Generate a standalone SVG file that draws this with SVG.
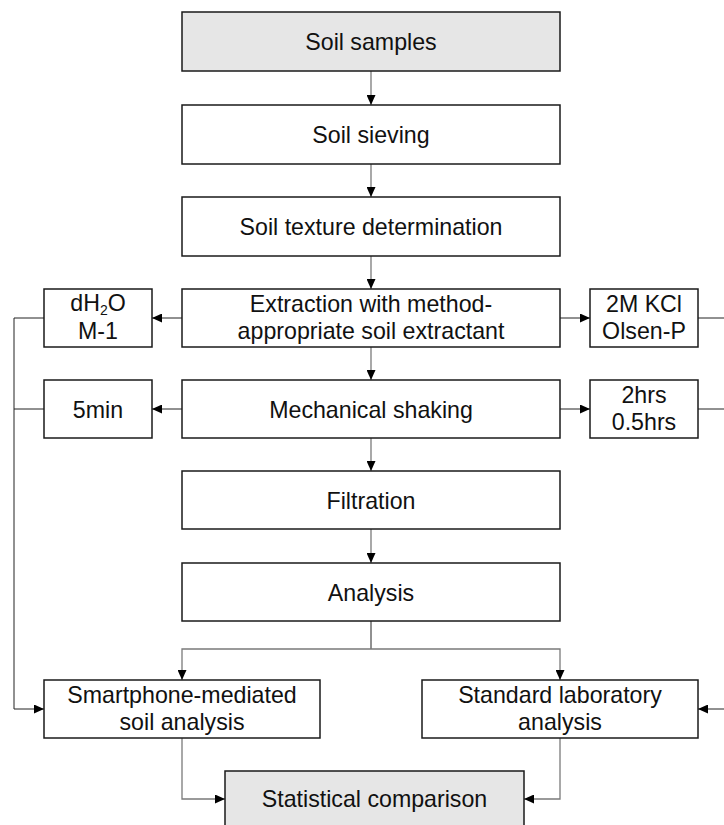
<svg xmlns="http://www.w3.org/2000/svg" width="724" height="825" viewBox="0 0 724 825">
<style>
.box{fill:#ffffff;stroke:#1a1a1a;stroke-width:1.5}
.grey{fill:#e6e6e6}
.t{font-family:"Liberation Sans",Arial,Helvetica,sans-serif;font-size:23.2px;fill:#111;text-anchor:middle}
.c{fill:none;stroke:#7a7a7a;stroke-width:1.3}
.s{fill:none;stroke:#222;stroke-width:1}
</style>
<defs>
<marker id="ah" viewBox="0 0 10 9" refX="10" refY="4.5" markerWidth="10" markerHeight="9" markerUnits="userSpaceOnUse" orient="auto">
<path d="M0,0 L10,4.5 L0,9 Z" fill="#000"/>
</marker>
</defs>
<rect width="724" height="825" fill="#ffffff"/>
<g id="connectors">
<path class="c" d="M371,71 V105" marker-end="url(#ah)"/>
<path class="c" d="M371,164 V197" marker-end="url(#ah)"/>
<path class="c" d="M371,256 V289" marker-end="url(#ah)"/>
<path class="c" d="M371,347 V380" marker-end="url(#ah)"/>
<path class="c" d="M371,438 V471" marker-end="url(#ah)"/>
<path class="c" d="M371,529 V563" marker-end="url(#ah)"/>
<path class="s" d="M182,318 H152" marker-end="url(#ah)"/>
<path class="s" d="M560,318 H590" marker-end="url(#ah)"/>
<path class="s" d="M182,409 H152" marker-end="url(#ah)"/>
<path class="s" d="M560,409 H590" marker-end="url(#ah)"/>
<path class="s" d="M44,318 H14 V709 H44" marker-end="url(#ah)"/>
<path class="s" d="M44,409 H14"/>
<path class="s" d="M698,318 H740 V709 H698" marker-end="url(#ah)"/>
<path class="s" d="M698,409 H740"/>
<path class="s" d="M371,621 V649"/>
<path class="c" d="M371,649 H182 V680" marker-end="url(#ah)"/>
<path class="c" d="M371,649 H560 V680" marker-end="url(#ah)"/>
<path class="c" d="M182,738 V799 H225" marker-end="url(#ah)"/>
<path class="c" d="M560,738 V799 H524" marker-end="url(#ah)"/>
</g>
<g id="soil-samples">
<rect class="box grey" x="182" y="12" width="378" height="59"/>
<text class="t" x="371" y="50">Soil samples</text>
</g>
<g id="soil-sieving">
<rect class="box" x="182" y="105" width="378" height="59"/>
<text class="t" x="371" y="143">Soil sieving</text>
</g>
<g id="soil-texture">
<rect class="box" x="182" y="197" width="378" height="59"/>
<text class="t" x="371" y="235">Soil texture determination</text>
</g>
<g id="extraction">
<rect class="box" x="182" y="289" width="378" height="58"/>
<text class="t" x="371" y="311.5">Extraction with method-</text>
<text class="t" x="371" y="338.5">appropriate soil extractant</text>
</g>
<g id="dh2o">
<rect class="box" x="44" y="289" width="108" height="58"/>
<text class="t" x="98" y="310.5">dH<tspan font-size="14" dy="4">2</tspan><tspan dy="-4">O</tspan></text>
<text class="t" x="98" y="339">M-1</text>
</g>
<g id="kcl">
<rect class="box" x="590" y="289" width="108" height="58"/>
<text class="t" x="644" y="311.5">2M KCl</text>
<text class="t" x="644" y="338.5">Olsen-P</text>
</g>
<g id="mechanical-shaking">
<rect class="box" x="182" y="380" width="378" height="58"/>
<text class="t" x="371" y="417.5">Mechanical shaking</text>
</g>
<g id="five-min">
<rect class="box" x="44" y="380" width="108" height="58"/>
<text class="t" x="98" y="417.5">5min</text>
</g>
<g id="hrs">
<rect class="box" x="590" y="380" width="108" height="58"/>
<text class="t" x="644" y="402.5">2hrs</text>
<text class="t" x="644" y="429.5">0.5hrs</text>
</g>
<g id="filtration">
<rect class="box" x="182" y="471" width="378" height="58"/>
<text class="t" x="371" y="508.5">Filtration</text>
</g>
<g id="analysis">
<rect class="box" x="182" y="563" width="378" height="58"/>
<text class="t" x="371" y="600.5">Analysis</text>
</g>
<g id="smartphone">
<rect class="box" x="44" y="680" width="276" height="58"/>
<text class="t" x="182" y="702.5">Smartphone-mediated</text>
<text class="t" x="182" y="730">soil analysis</text>
</g>
<g id="standard">
<rect class="box" x="422" y="680" width="276" height="58"/>
<text class="t" x="560" y="702.5">Standard laboratory</text>
<text class="t" x="560" y="730">analysis</text>
</g>
<g id="statistical">
<rect class="box grey" x="225" y="771" width="299" height="60"/>
<text class="t" x="374.5" y="807">Statistical comparison</text>
</g>
</svg>
